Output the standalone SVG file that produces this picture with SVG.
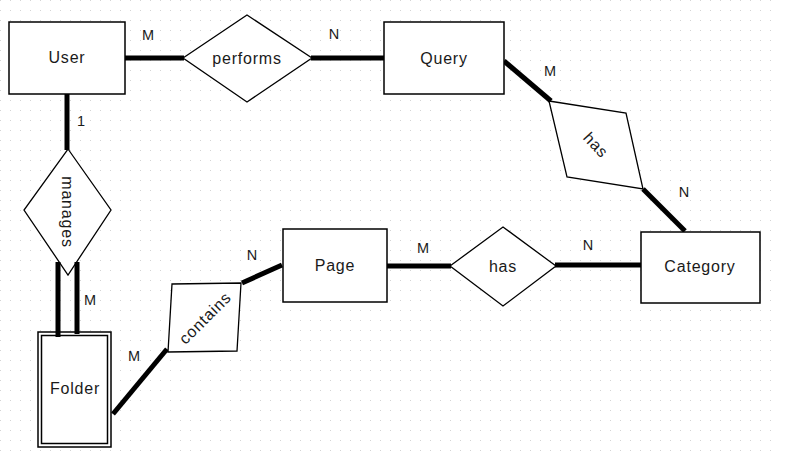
<svg xmlns="http://www.w3.org/2000/svg" width="786" height="466" viewBox="0 0 786 466">
<defs>
<pattern id="grid" width="10" height="10" patternUnits="userSpaceOnUse">
<rect x="0" y="0" width="1" height="1" fill="#d4d4d4"/>
</pattern>
</defs>
<style>
.ent{fill:#fff;stroke:#000;stroke-width:1.5}
.rel{fill:#fff;stroke:#000;stroke-width:1.3}
.conn line{stroke:#000;stroke-width:5}
text{font-family:"Liberation Sans",Arial,sans-serif;font-size:16px;fill:#1a1a1a;letter-spacing:0.8px}
.lbl{font-size:14.5px;letter-spacing:0}
.c{text-anchor:middle;dominant-baseline:central}
</style>
<rect width="786" height="466" fill="#fff"/>
<rect width="776" height="460" fill="url(#grid)"/>
<g class="conn" id="connectors">
<line x1="125" y1="58" x2="184" y2="58"/>
<line x1="311" y1="58" x2="385" y2="58"/>
<line x1="504" y1="61" x2="551" y2="101"/>
<line x1="643" y1="189" x2="685" y2="231"/>
<line x1="386" y1="266" x2="451" y2="266"/>
<line x1="555" y1="265" x2="641" y2="265"/>
<line x1="242" y1="283" x2="282" y2="265"/>
<line x1="113" y1="414" x2="167" y2="349"/>
<line x1="67" y1="94" x2="67" y2="150"/>
</g>
<g id="user"><rect class="ent" x="9" y="22" width="116" height="72"/><text class="c" x="67" y="57">User</text></g>
<g id="performs"><polygon class="rel" points="183,58 247,15 312,58 247,102"/><text class="c" x="247" y="58">performs</text></g>
<g id="query"><rect class="ent" x="384" y="22" width="120" height="72"/><text class="c" x="444" y="58">Query</text></g>
<g id="has1"><polygon class="rel" points="549,101 626,113 643,189 567,177"/><text class="c" x="596" y="145" transform="rotate(47 596 145)">has</text></g>
<g id="category"><rect class="ent" x="641" y="232" width="119" height="71"/><text class="c" x="700" y="266">Category</text></g>
<g id="has2"><polygon class="rel" points="450,266 503,227 556,266 503,306"/><text class="c" x="503" y="266">has</text></g>
<g id="page"><rect class="ent" x="283" y="229" width="104" height="73"/><text class="c" x="335" y="265">Page</text></g>
<g id="contains"><polygon class="rel" points="172,284 241,283 237,351 168,352"/><text class="c" x="205" y="318" transform="rotate(-45 205 318)">contains</text></g>
<g id="folder"><rect class="ent" x="38" y="332" width="73" height="115"/><rect class="ent" x="41.5" y="335.5" width="66" height="108" fill="none"/><text class="c" x="75" y="388">Folder</text></g>
<g id="manages"><polygon class="rel" points="68,149 111,210 68,275 24,210"/><text class="c" x="67" y="212" transform="rotate(90 67 212)">manages</text></g>
<g class="conn" id="connectors2">
<line x1="58" y1="262" x2="58" y2="337"/>
<line x1="77" y1="262" x2="77" y2="334"/>
</g>
<g id="labels">
<text class="lbl c" x="148" y="35">M</text>
<text class="lbl c" x="334" y="34">N</text>
<text class="lbl c" x="550" y="71">M</text>
<text class="lbl c" x="684" y="192">N</text>
<text class="lbl c" x="423" y="248">M</text>
<text class="lbl c" x="588" y="245">N</text>
<text class="lbl c" x="252" y="255">N</text>
<text class="lbl c" x="134" y="356">M</text>
<text class="lbl c" x="81" y="121">1</text>
<text class="lbl c" x="90" y="300">M</text>
</g>
</svg>
